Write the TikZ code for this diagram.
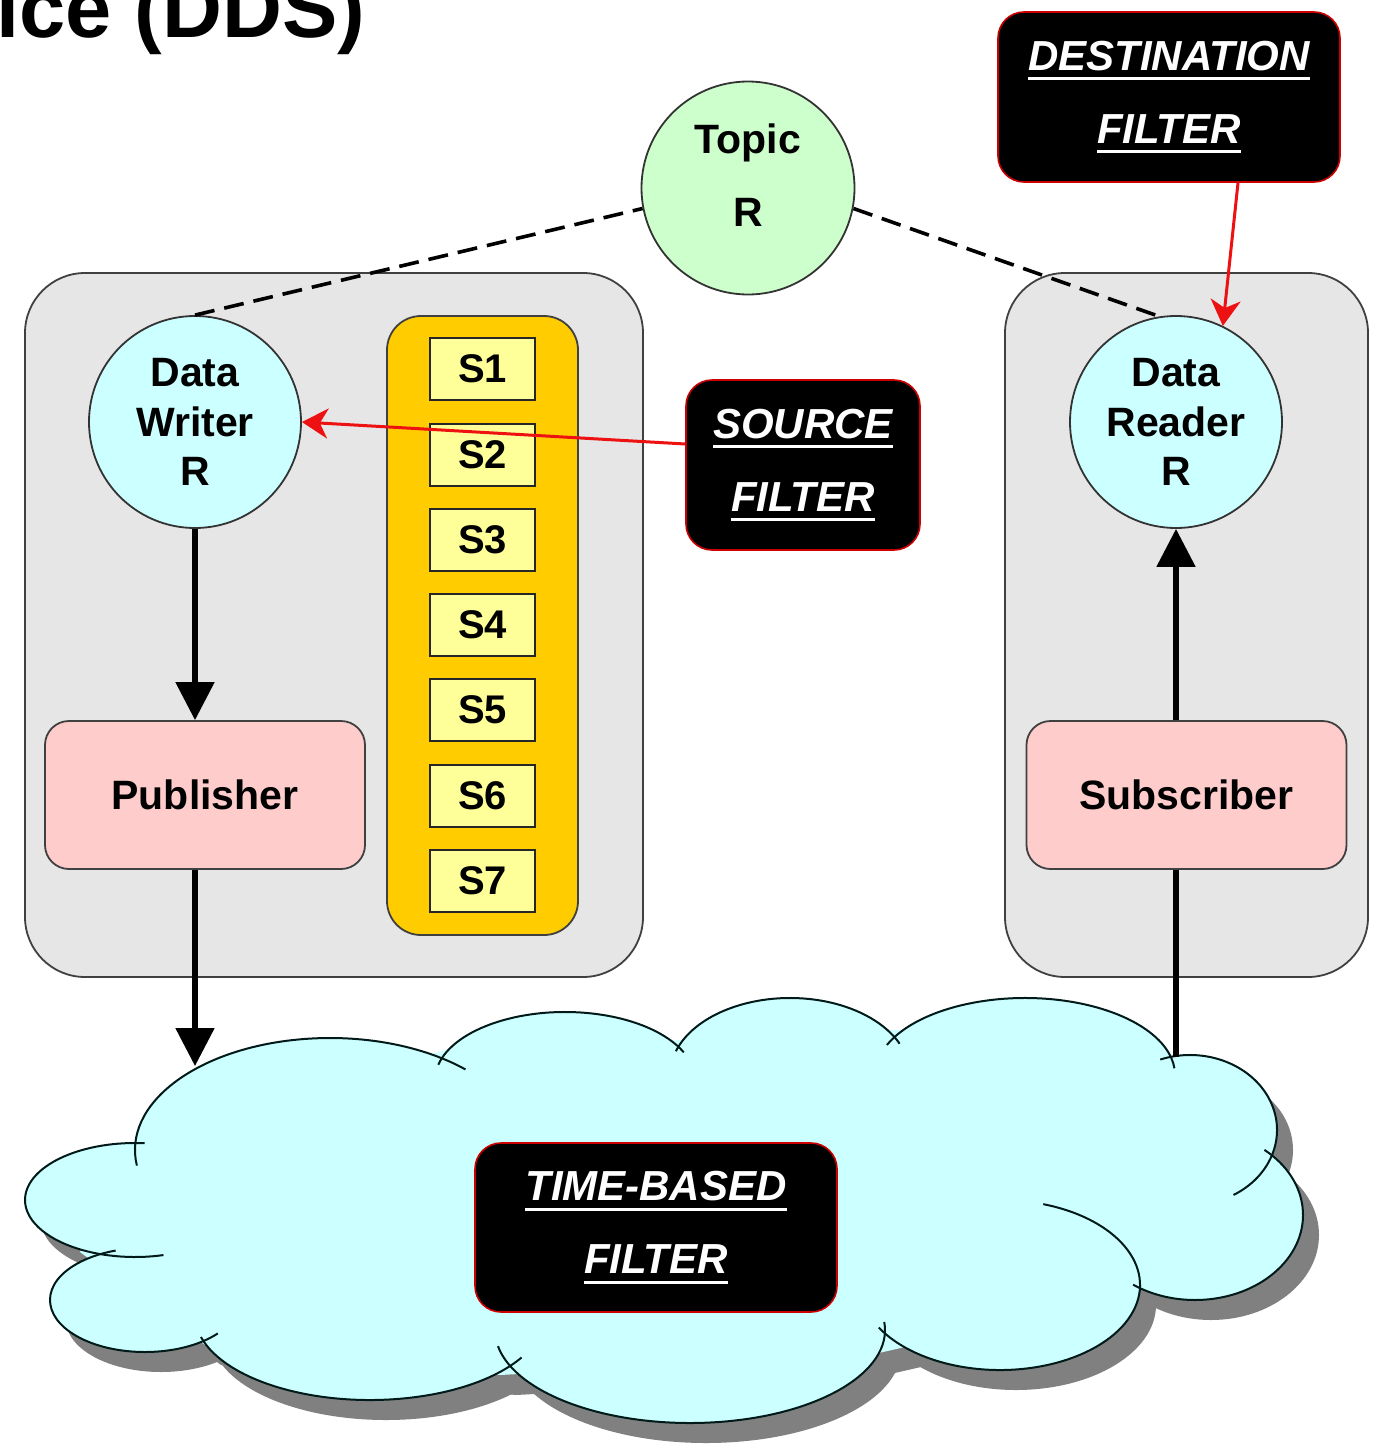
\documentclass[tikz,border=0pt]{standalone}
\usepackage{fontspec}
\setmainfont{Liberation Sans}
\usepackage{tikz}
\usetikzlibrary{arrows.meta,positioning,calc}

\definecolor{panelgray}{HTML}{E6E6E6}
\definecolor{topicgreen}{HTML}{CCFFCC}
\definecolor{entitycyan}{HTML}{CCFFFF}
\definecolor{columngold}{HTML}{FFCC00}
\definecolor{slotyellow}{HTML}{FFFF99}
\definecolor{boxpink}{HTML}{FFCCCC}
\definecolor{cloudcyan}{HTML}{CCFFFF}
\definecolor{cloudshadow}{HTML}{808080}
\definecolor{filterred}{HTML}{CC0000}
\definecolor{arrowred}{HTML}{EE1111}

\newcommand{\ulword}[1]{\setbox0=\hbox{#1}\leavevmode\rlap{\raisebox{-5pt}{\rule{\wd0}{1.4pt}}}\box0}

\tikzset{
  panel/.style={draw=black!75, fill=panelgray, line width=0.9pt, rounded corners=30pt, inner sep=0pt},
  entity/.style={circle, draw=black!80, line width=0.9pt, fill=entitycyan, minimum size=106pt, inner sep=0pt, align=center, font=\fontsize{20.5}{24.75}\selectfont\bfseries},
  topicball/.style={entity, fill=topicgreen, minimum size=106.5pt},
  lbl/.style={align=center, inner sep=0pt, font=\fontsize{20.5}{36.5}\selectfont\bfseries},
  slotcolumn/.style={draw=black!75, fill=columngold, line width=0.9pt, rounded corners=17pt, minimum width=95.5pt, minimum height=309.5pt, inner sep=0pt},
  slot/.style={draw=black!85, fill=slotyellow, line width=1pt, minimum width=52.5pt, minimum height=31pt, inner sep=0pt, font=\fontsize{20}{24}\selectfont\bfseries},
  roleblock/.style={draw=black!75, fill=boxpink, line width=0.9pt, rounded corners=12pt, minimum width=160pt, minimum height=74pt, inner sep=0pt, font=\fontsize{20.5}{24}\selectfont\bfseries},
  filterbox/.style={draw=filterred, fill=black, line width=0.8pt, rounded corners=13pt, minimum height=85pt, inner sep=0pt, text=white, align=center, font=\fontsize{21}{36.5}\selectfont\bfseries\itshape},
  flowarrow/.style={line width=2.6pt, -{Triangle[length=19pt,width=19pt]}},
  feedline/.style={line width=2.6pt},
  selectarrow/.style={draw=arrowred, line width=1.5pt, -{Stealth[length=13pt,width=15pt,inset=4pt]}},
  bindline/.style={line width=1.8pt, dash pattern=on 10pt off 5pt},
  lobeline/.style={draw=black!80!teal, line width=1pt}
}

\def\cloudlobes{330/1150/195/112/172/314, 565/1080/130/68/193/336, 790/1075/120/77/198/336, 1025/1075/150/77/203/355, 1190/1130/87/75/250/420, 1195/1215/108/85/-50/125, 1000/1285/140/85/-72/150, 690/1330/195/93/-5/170, 370/1315/175/85/30/165, 145/1300/95/52/40/252, 135/1200/110/57/275/75}
\def\cloudcore{(140,1145) -- (445,1050) -- (683,1040) -- (895,1030) -- (1168,1060) -- (1265,1155) -- (1132,1295) -- (870,1355) -- (500,1375) -- (205,1345) -- (80,1252) -- cycle}

\begin{document}
\begin{tikzpicture}[x=0.5pt,y=-0.5pt]
\useasboundingbox (0,0) rectangle (1375,1445);
\fill[white] (0,0) rectangle (1375,1445);

\node[anchor=base west, inner sep=0pt, font=\fontsize{41.5}{44}\selectfont\bfseries] (title) at (-4,38) {ice (DDS)};

\node[panel, minimum width=309pt, minimum height=352pt] (leftpanel) at (334,625) {};
\node[panel, minimum width=181.5pt, minimum height=352pt] (rightpanel) at (1186.5,625) {};

\node[slotcolumn] (samples) at (482.5,625.5) {};
\node[slot] (s1) at (482.5,369) {S1};
\node[slot] (s2) at (482.5,454.5) {S2};
\node[slot] (s3) at (482.5,539.5) {S3};
\node[slot] (s4) at (482.5,625) {S4};
\node[slot] (s5) at (482.5,710) {S5};
\node[slot] (s6) at (482.5,795.5) {S6};
\node[slot] (s7) at (482.5,881) {S7};

\node[topicball] (topic) at (748,188) {};
\node[lbl] (topiclbl) at (748,175) {Topic\\R};
\node[entity] (writer) at (195,422) {Data\\Writer\\R};
\node[entity] (reader) at (1176,422) {Data\\Reader\\R};

\node[roleblock] (publisher) at (205,795) {Publisher};
\node[roleblock] (subscriber) at (1186.5,795) {Subscriber};

\begin{scope}[shift={(16,20)}]
\fill[cloudshadow] \cloudcore;
\foreach \lx/\ly/\lrx/\lry/\la/\lb in \cloudlobes
  \fill[cloudshadow] (\lx,\ly) ellipse [x radius=\lrx, y radius=\lry];
\end{scope}
\fill[cloudcyan] \cloudcore;
\foreach \lx/\ly/\lrx/\lry/\la/\lb in \cloudlobes
  \fill[cloudcyan] (\lx,\ly) ellipse [x radius=\lrx, y radius=\lry];
\foreach \lx/\ly/\lrx/\lry/\la/\lb in \cloudlobes
  \draw[lobeline] (\lx,\ly) ++({\lrx*cos(\la)},{\lry*sin(\la)}) arc[start angle=\la, end angle=\lb, x radius=\lrx, y radius=\lry];
\coordinate (cloudin) at (195,1066);
\coordinate (cloudout) at (1176,1057);

\node[filterbox, minimum width=117pt] (source) at (803,465) {\ulword{SOURCE}\\\ulword{FILTER}};
\node[filterbox, minimum width=171pt] (dest) at (1169,97) {\ulword{DESTINATION}\\\ulword{FILTER}};
\node[filterbox, minimum width=181pt, minimum height=84.5pt] (timebased) at (656,1227.5) {\ulword{TIME-BASED}\\\ulword{FILTER}};

\draw[bindline] (writer.north) -- (topic.191);
\draw[bindline] (topic.349) -- (reader.99);
\draw[flowarrow] (writer.south) -- (writer.south |- publisher.north);
\draw[flowarrow] (writer.south |- publisher.south) -- (cloudin);
\draw[flowarrow] (reader.south |- subscriber.north) -- (reader.south);
\draw[feedline] (cloudout) -- (reader.south |- subscriber.south);
\draw[selectarrow] ([yshift=10.5pt]source.west) -- (writer.east);
\draw[selectarrow] ([xshift=34.5pt]dest.south) -- (reader.64);
\end{tikzpicture}
\end{document}
